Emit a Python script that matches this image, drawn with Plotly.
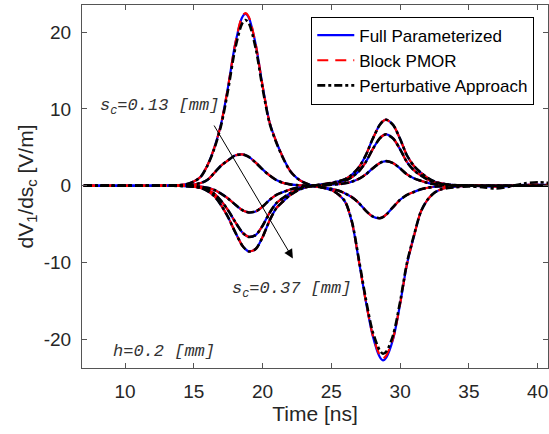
import plotly.graph_objects as go

# ---------------- data ----------------
time_ns = [7, 8, 9, 10, 11, 12, 13, 13.5, 14, 14.5, 15, 15.5, 16, 16.5, 17, 17.5, 18, 18.5, 18.75,
           19, 19.5, 20, 20.5, 21, 21.5, 22, 22.5, 23, 23.5, 24, 24.5, 25, 25.5, 26, 26.5, 27, 27.5,
           28, 28.5, 28.75, 29, 29.5, 30, 30.5, 31, 31.5, 32, 32.5, 33, 33.5, 34, 35, 36, 37, 38,
           39, 40, 41]

# s_c = 0.13 mm (largest response), three methods
sc013_full = [0, 0, 0, 0, 0, 0, 0.01, 0.03, 0.09, 0.22, 0.54, 1.16, 2.7, 5.0, 8.2, 13.0, 18.4, 21.9, 22.4,
              21.9, 18.4, 13.0, 8.3, 5.7, 3.6, 1.94, 0.99, 0.42, 0.09, -0.11, -0.31, -0.57, -1.13, -2.1, -4.8,
              -9.8, -15.0, -19.5, -22.25, -22.75, -22.35, -19.9, -15.4, -10.2, -6.6, -3.4, -1.8, -0.9, -0.45,
              -0.22, -0.11, -0.02, -0.05, -0.12, -0.05, 0.1, 0.15, 0.1]
sc013_pmor = [0, 0, 0, 0, 0, 0, 0.01, 0.03, 0.09, 0.22, 0.54, 1.16, 2.7, 5.0, 8.2, 13.0, 18.4, 22.0, 22.5,
              22.0, 18.4, 13.0, 8.3, 5.7, 3.6, 1.94, 0.99, 0.42, 0.09, -0.11, -0.31, -0.57, -1.13, -2.1, -4.8,
              -9.8, -15.0, -19.4, -22.0, -22.5, -22.1, -19.8, -15.4, -10.2, -6.6, -3.4, -1.8, -0.9, -0.45,
              -0.22, -0.11, -0.02, -0.05, -0.12, -0.05, 0.1, 0.15, 0.1]
sc013_pert = [0, 0, 0, 0, 0, 0, 0.01, 0.03, 0.09, 0.22, 0.54, 1.16, 2.65, 4.9, 8.0, 12.6, 17.8, 21.1, 21.6,
              21.2, 17.9, 12.7, 8.2, 5.6, 3.55, 1.92, 0.98, 0.42, 0.09, -0.11, -0.31, -0.57, -1.12, -2.05, -4.7,
              -9.6, -14.7, -19.0, -21.4, -21.9, -21.6, -19.4, -15.1, -10.0, -6.5, -3.4, -1.8, -0.9, -0.45,
              -0.3, -0.2, -0.1, -0.2, -0.35, -0.1, 0.3, 0.45, 0.35]

# remaining s_c values (methods coincide)
sc019 = [0, 0, 0, 0, 0, 0, 0, 0.02, 0.06, 0.09, 0.16, 0.35, 0.78, 1.7, 2.65, 3.32, 3.94, 4.08, 3.98,
         3.75, 3.01, 2.13, 1.35, 0.74, 0.37, 0.18, 0.08, 0.02, -0.04, -0.12, -0.24, -0.4, -0.63, -1.0, -1.5,
         -2.25, -3.25, -4.0, -4.23, -4.08, -3.74, -2.76, -1.83, -1.19, -0.81, -0.47, -0.26, -0.13, -0.07,
         -0.03, -0.02, 0, 0, 0, 0, 0, 0, 0]
sc025 = [0, 0, 0, 0, 0, 0, 0, 0, -0.01, -0.02, -0.05, -0.12, -0.28, -0.56, -1.05, -1.68, -2.45, -3.15, -3.36,
         -3.48, -3.35, -2.72, -1.86, -1.19, -0.82, -0.5, -0.27, -0.12, -0.04, 0.03, 0.08, 0.13, 0.21, 0.32, 0.54,
         0.9, 1.47, 2.26, 2.93, 3.13, 3.2, 2.93, 2.26, 1.47, 0.96, 0.64, 0.38, 0.21, 0.11,
         0.06, 0.03, 0.01, 0, 0, 0, 0, 0, 0]
sc031 = [0, 0, 0, 0, 0, 0, 0, -0.01, -0.01, -0.04, -0.1, -0.23, -0.54, -1.07, -2.01, -3.22, -4.69, -6.03, -6.43,
         -6.67, -6.42, -5.21, -3.55, -2.27, -1.57, -0.96, -0.51, -0.23, -0.05, 0.08, 0.18, 0.28, 0.44, 0.67, 1.14,
         1.88, 3.08, 4.74, 6.14, 6.55, 6.7, 6.14, 4.74, 3.07, 2.01, 1.34, 0.8, 0.44, 0.23,
         0.12, 0.06, 0.01, 0, 0, 0, 0, 0, 0]
sc037 = [0, 0, 0, 0, 0, 0, 0, -0.01, -0.02, -0.05, -0.13, -0.3, -0.69, -1.38, -2.58, -4.13, -6.02, -7.74, -8.26,
         -8.56, -8.24, -6.69, -4.56, -2.92, -2.02, -1.23, -0.66, -0.29, -0.07, 0.1, 0.23, 0.36, 0.57, 0.86, 1.46,
         2.41, 3.96, 6.08, 7.89, 8.41, 8.6, 7.89, 6.08, 3.94, 2.58, 1.72, 1.03, 0.56, 0.3,
         0.15, 0.08, 0.02, 0, 0, 0, 0, 0, 0]

method_names = ["Full Parameterized", "Block PMOR", "Perturbative Approach"]
method_curves = [
    [sc013_full, sc019, sc025, sc031, sc037],
    [sc013_pmor, sc019, sc025, sc031, sc037],
    [sc013_pert, sc019, sc025, sc031, sc037],
]
x_ticks = [10, 15, 20, 25, 30, 35, 40]
x_tick_labels = ["10", "15", "20", "25", "30", "35", "40"]
y_ticks = [-20, -10, 0, 10, 20]
y_tick_labels = ["-20", "-10", "0", "10", "20"]

# ---------------- styling ----------------
styles = [
    dict(color="#0000ff", width=2.2, dash="solid"),
    dict(color="#ff0000", width=2.2, dash="11px,7px"),
    dict(color="#000000", width=2.6, dash="8px,3px,3px,3px"),
]

fig = go.Figure()
for name, curves, st in zip(method_names, method_curves, styles):
    for i, yv in enumerate(curves):
        fig.add_trace(go.Scatter(
            x=time_ns, y=yv, mode="lines", name=name,
            legendgroup=name, showlegend=(i == 0),
            line=dict(color=st["color"], width=st["width"], dash=st["dash"],
                      shape="spline", smoothing=0.8),
            hoverinfo="skip",
        ))

axis_color = "#555555"
tick_font = dict(family="Liberation Sans, Arial, sans-serif", size=19, color="#262626")
title_font = dict(family="Liberation Sans, Arial, sans-serif", size=21, color="#262626")

fig.update_layout(
    width=549, height=434,
    margin=dict(l=82, r=1, t=5, b=66),
    paper_bgcolor="white", plot_bgcolor="white",
    showlegend=True,
    legend=dict(
        x=0.492, y=0.968, xanchor="left", yanchor="top",
        bgcolor="white", bordercolor="black", borderwidth=1,
        font=dict(family="Liberation Sans, Arial, sans-serif", size=17, color="#000000"),
        itemwidth=37, tracegroupgap=0,
    ),
    xaxis=dict(
        range=[6.87, 40.75], tickvals=x_ticks, ticktext=x_tick_labels, ticks="inside", ticklen=5,
        tickcolor=axis_color, showline=True, linecolor=axis_color, linewidth=1,
        mirror="ticks", showgrid=False, zeroline=False, tickfont=tick_font,
        title=dict(text="Time [ns]", font=title_font, standoff=3),
        ticklabelstandoff=6,
    ),
    yaxis=dict(
        range=[-23.75, 23.55], tickvals=y_ticks, ticktext=y_tick_labels, ticks="inside", ticklen=5,
        tickcolor=axis_color, showline=True, linecolor=axis_color, linewidth=1,
        mirror="ticks", showgrid=False, zeroline=False, tickfont=tick_font,
        title=dict(text="dV<sub>1</sub>/ds<sub>c</sub> [V/m]", font=title_font, standoff=4),
        ticklabelstandoff=6,
    ),
)

ann_font = dict(family="Liberation Mono, Courier New, monospace", size=17, color="#333333")
fig.add_annotation(x=8.0, y=10.3, xref="x", yref="y", xanchor="left", yanchor="middle",
                   text="<i>s<sub>c</sub>=0.13 [mm]</i>", showarrow=False, font=ann_font)
fig.add_annotation(x=17.6, y=-13.6, xref="x", yref="y", xanchor="left", yanchor="middle",
                   text="<i>s<sub>c</sub>=0.37 [mm]</i>", showarrow=False, font=ann_font)
fig.add_annotation(x=9.0, y=-21.6, xref="x", yref="y", xanchor="left", yanchor="middle",
                   text="<i>h=0.2 [mm]</i>", showarrow=False, font=ann_font)
fig.add_annotation(x=22.2, y=-9.47, ax=16.41, ay=8.04, xref="x", yref="y", axref="x", ayref="y",
                   text="", showarrow=True, arrowhead=2, arrowsize=1.8, arrowwidth=1,
                   arrowcolor="#000000")

fig.write_html("out.html")
